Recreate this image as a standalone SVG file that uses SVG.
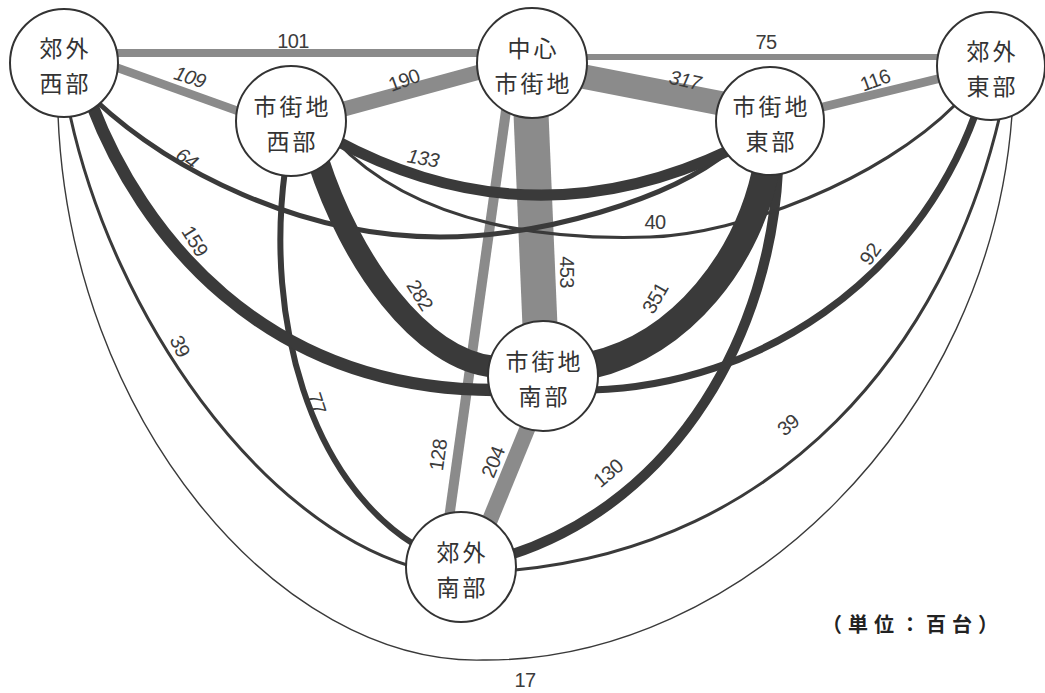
<svg xmlns="http://www.w3.org/2000/svg" width="1045" height="693" viewBox="0 0 1045 693">
  <style>
    .g { fill: none; stroke: #8b8b8b; stroke-linecap: butt; }
    .d { fill: none; stroke: #3a3a3a; stroke-linecap: butt; }
    .node circle { fill: #ffffff; stroke: #333333; stroke-width: 2; }
    .node text { font-family: "Noto Sans CJK JP", "Noto Sans CJK SC", sans-serif; font-size: 23px; letter-spacing: 3px; fill: #333333; text-anchor: middle; }
    .lbl { font-family: "Liberation Sans", Arial, sans-serif; font-size: 20px; letter-spacing: -0.6px; fill: #3c3c3c; text-anchor: middle; dominant-baseline: central; }
    .it { font-style: italic; }
    .unit { font-family: "Noto Sans CJK JP", "Noto Sans CJK SC", sans-serif; font-size: 20px; font-weight: bold; fill: #222222; letter-spacing: 6px; }
  </style>
  <rect width="1045" height="693" fill="#ffffff"/>

  <g id="connectors">
    <!-- grey links -->
    <path class="g" stroke-width="7.9" d="M64,53 L532,53"/>
    <path class="g" stroke-width="5.9" d="M532,57 L991,57"/>
    <path class="g" stroke-width="8.5" d="M90,58 L260,119"/>
    <path class="g" stroke-width="14.8" d="M300,121 L520,61"/>
    <path class="g" stroke-width="24.7" d="M560,72 L750,109"/>
    <path class="g" stroke-width="9" d="M790,115 L970,71"/>
    <path class="g" stroke-width="35" d="M530,90 L541,350"/>
    <path class="g" stroke-width="10" d="M507.5,100 L446,540"/>
    <path class="g" stroke-width="15.9" d="M535,410 L485,532"/>

    <!-- dark links -->
    <path class="d" stroke-width="1.4" d="M58,115 C70,420 280,665 483,660 C740,662 990,420 1012,115"/>
    <path class="d" stroke-width="3" d="M70,115 C115,320 260,520 410,566"/>
    <path class="d" stroke-width="3" d="M1000,115 C945,350 780,545 515,570"/>
    <path class="d" stroke-width="6" d="M285,170 C265,320 310,480 415,545"/>
    <path class="d" stroke-width="10.1" d="M778,170 C770,330 680,500 510,555"/>
    <path class="d" stroke-width="12.4" d="M92,105 C140,230 260,390 495,390"/>
    <path class="d" stroke-width="7.2" d="M592,390 C760,385 915,280 975,115"/>
    <path class="d" stroke-width="5" d="M95,100 C170,170 300,237 440,237 C540,237 670,200 730,150"/>
    <path class="d" stroke-width="3.1" d="M335,140 C420,230 560,240 650,237 C740,234 880,180 955,105"/>
    <path class="d" stroke-width="11" d="M335,140 Q530,245 730,150"/>
    <path class="d" stroke-width="22" d="M318,160 C350,260 420,360 495,367"/>
    <path class="d" stroke-width="27.4" d="M768,160 C750,260 680,345 592,365"/>

    <!-- link values -->
    <text class="lbl" x="293" y="41">101</text>
    <text class="lbl" x="766" y="42">75</text>
    <text class="lbl it" transform="translate(190,77) rotate(18)">109</text>
    <text class="lbl" transform="translate(404,80) rotate(-20)">190</text>
    <text class="lbl it" transform="translate(685,80) rotate(12)">317</text>
    <text class="lbl" transform="translate(875,80) rotate(-20)">116</text>
    <text class="lbl it" transform="translate(187,158) rotate(35)">64</text>
    <text class="lbl it" transform="translate(423,158) rotate(10)">133</text>
    <text class="lbl" x="655" y="222">40</text>
    <text class="lbl" transform="translate(567,272) rotate(90)">453</text>
    <text class="lbl" transform="translate(420,295) rotate(58)">282</text>
    <text class="lbl" transform="translate(655,298) rotate(-60)">351</text>
    <text class="lbl" transform="translate(195,241) rotate(58)">159</text>
    <text class="lbl" transform="translate(870,254) rotate(-55)">92</text>
    <text class="lbl" transform="translate(180,346) rotate(65)">39</text>
    <text class="lbl" transform="translate(317,403) rotate(72)">77</text>
    <text class="lbl" transform="translate(438,455) rotate(-82)">128</text>
    <text class="lbl" transform="translate(493,462) rotate(-68)">204</text>
    <text class="lbl" transform="translate(608,473) rotate(-40)">130</text>
    <text class="lbl" transform="translate(788,425) rotate(-40)">39</text>
    <text class="lbl" x="525" y="680">17</text>
  </g>

  <g id="node-west-suburb" class="node">
    <circle cx="64" cy="63" r="54"/>
    <text x="65.5" y="56.5">郊外</text>
    <text x="65.5" y="91.5">西部</text>
  </g>
  <g id="node-west-city" class="node">
    <circle cx="291" cy="121" r="55"/>
    <text x="292.5" y="114.5">市街地</text>
    <text x="292.5" y="149.5">西部</text>
  </g>
  <g id="node-centre" class="node">
    <circle cx="532" cy="63" r="55"/>
    <text x="533.5" y="56.5">中心</text>
    <text x="533.5" y="91.5">市街地</text>
  </g>
  <g id="node-east-city" class="node">
    <circle cx="770" cy="121" r="54"/>
    <text x="771.5" y="114.5">市街地</text>
    <text x="771.5" y="149.5">東部</text>
  </g>
  <g id="node-east-suburb" class="node">
    <circle cx="991" cy="66" r="54"/>
    <text x="992.5" y="59.5">郊外</text>
    <text x="992.5" y="94.5">東部</text>
  </g>
  <g id="node-south-city" class="node">
    <circle cx="543" cy="376" r="55"/>
    <text x="544.5" y="369.5">市街地</text>
    <text x="544.5" y="404.5">南部</text>
  </g>
  <g id="node-south-suburb" class="node">
    <circle cx="461" cy="567" r="55"/>
    <text x="462.5" y="560.5">郊外</text>
    <text x="462.5" y="595.5">南部</text>
  </g>

  <text class="unit" x="822" y="632">（単位：百台）</text>
</svg>
